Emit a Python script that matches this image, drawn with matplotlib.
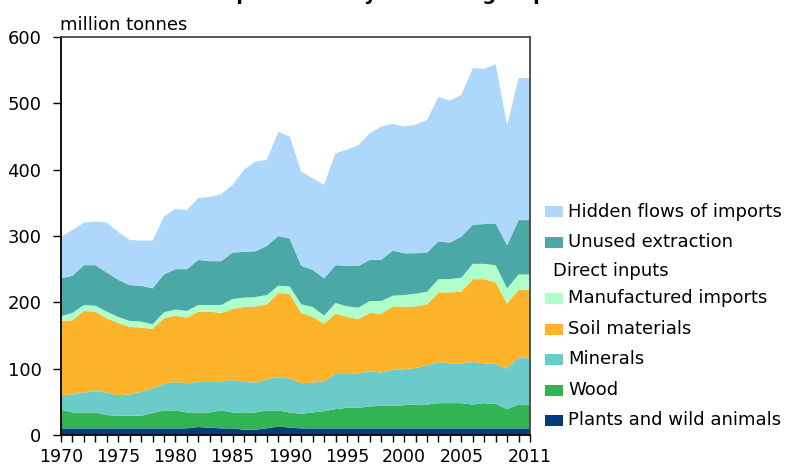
import matplotlib
matplotlib.use("Agg")
import matplotlib.pyplot as plt
from matplotlib.patches import Rectangle

# Years 1970-2011
years = list(range(1970, 2012))

# Values, million tonnes (stacked bottom to top)
plants = [10, 10, 10, 10, 10, 10, 10, 10, 10, 10,
          10, 10, 12, 11, 10, 10, 8, 8, 10, 13,
          11, 10, 10, 10, 10, 10, 10, 10, 10, 10,
          10, 10, 10, 10, 10, 10, 10, 10, 10, 10,
          10, 10]
wood = [28, 24, 24, 24, 20, 19, 19, 19, 23, 27,
        27, 24, 22, 23, 27, 24, 25, 26, 27, 24,
        23, 22, 24, 26, 29, 31, 31, 33, 34, 34,
        35, 36, 36, 38, 38, 38, 36, 38, 37, 29,
        36, 36]
minerals = [22, 27, 30, 32, 34, 31, 32, 36, 37, 40,
            43, 44, 46, 46, 43, 49, 47, 45, 47, 50,
            51, 46, 45, 45, 53, 51, 52, 53, 50, 55,
            54, 55, 59, 62, 60, 60, 64, 60, 60, 61,
            71, 71]
soil = [112, 112, 123, 120, 112, 109, 102, 97, 90, 99,
        100, 99, 106, 106, 104, 107, 113, 115, 113, 127,
        128, 106, 99, 87, 91, 86, 82, 88, 89, 95,
        94, 93, 92, 105, 107, 108, 125, 127, 123, 98,
        102, 102]
manufactured = [7, 11, 9, 9, 10, 9, 9, 9, 7, 9,
                9, 10, 10, 10, 12, 15, 14, 14, 14, 11,
                11, 13, 15, 12, 16, 16, 17, 18, 19, 16,
                18, 19, 19, 20, 20, 21, 23, 23, 26, 23,
                23, 23]
unused = [57, 56, 60, 61, 59, 56, 54, 54, 54, 57,
          61, 63, 68, 66, 66, 70, 69, 69, 74, 75,
          72, 58, 56, 56, 57, 61, 63, 62, 62, 68,
          63, 61, 59, 57, 55, 62, 59, 60, 63, 65,
          82, 82]
hidden = [63, 69, 64, 66, 75, 72, 68, 68, 72, 87,
          91, 89, 93, 97, 101, 102, 124, 135, 130, 157,
          154, 142, 138, 141, 169, 175, 182, 191, 201, 191,
          191, 194, 200, 218, 214, 214, 236, 234, 240, 181,
          214, 214]

series_labels = ["Plants and wild animals", "Wood", "Minerals", "Soil materials",
                 "Manufactured imports", "Unused extraction", "Hidden flows of imports"]
colors = ["#003D7A", "#32B455", "#6BCBC9", "#FDB42A", "#AFFFCB", "#4AA8A7", "#ADD8FB"]

xtick_labels = {1970: "1970", 1975: "1975", 1980: "1980", 1985: "1985",
                1990: "1990", 1995: "1995", 2000: "2000", 2005: "2005", 2011: "2011"}

plt.rcParams['font.family'] = ['DejaVu Sans']

fig = plt.figure(figsize=(7.88, 4.68), dpi=100)
ax = fig.add_axes([61 / 788, 1 - 435 / 468, 469 / 788, 398 / 468])

ax.stackplot(years, plants, wood, minerals, soil, manufactured, unused, hidden,
             colors=colors, linewidth=0, zorder=2)

ax.set_xlim(1970, 2011)
ax.set_ylim(0, 600)
ax.set_yticks(range(0, 601, 100))
ax.set_xticks(years)
ax.set_xticklabels([xtick_labels.get(y, "") for y in years])
ax.tick_params(axis='both', direction='out', colors='black')
ax.tick_params(axis='y', length=6, width=1, pad=8, labelsize=13)
ax.tick_params(axis='x', length=5, width=1, pad=4, labelsize=12.5)

# dashed gridlines (only between 0 and 600) sit behind the areas
ax.set_axisbelow(True)
ax.set_yticks([100, 200, 300, 400, 500], minor=True)
ax.tick_params(axis='y', which='minor', length=0)
ax.yaxis.grid(True, which='minor', linestyle=(0, (4, 3)), color='black', linewidth=1.0)
ax.yaxis.grid(False, which='major')

for side in ['left', 'bottom']:
    ax.spines[side].set_color('black')
    ax.spines[side].set_linewidth(1.3)
for side in ['top', 'right']:
    ax.spines[side].set_color('#444444')
    ax.spines[side].set_linewidth(1.3)

fig.text(60 / 788, 1 - 30 / 468, "million tonnes", fontsize=13, ha='left', va='baseline')

# title is cropped at the top edge in the original
fig.text(297 / 788, 1.0, "Total material requirement by material group",
         fontsize=14, fontweight='bold', ha='center', va='baseline')

# legend built by hand so "Direct inputs" can stand as a header
legend_rows = [("Hidden flows of imports", colors[6]),
               ("Unused extraction", colors[5]),
               ("Direct inputs", None),
               ("Manufactured imports", colors[4]),
               ("Soil materials", colors[3]),
               ("Minerals", colors[2]),
               ("Wood", colors[1]),
               ("Plants and wild animals", colors[0])]
row_y = [212, 242, 271, 298, 329, 359, 390, 420]
for (label, col), py in zip(legend_rows, row_y):
    yf = 1 - py / 468
    if col is None:
        fig.text(553 / 788, yf, label, fontsize=13, ha='left', va='center')
    else:
        fig.patches.append(Rectangle((545 / 788, yf - 5.5 / 468), 18 / 788, 11 / 468,
                                     transform=fig.transFigure, facecolor=col,
                                     edgecolor='none', figure=fig))
        fig.text(568 / 788, yf, label, fontsize=13, ha='left', va='center')

fig.savefig("out.png", dpi=100)
